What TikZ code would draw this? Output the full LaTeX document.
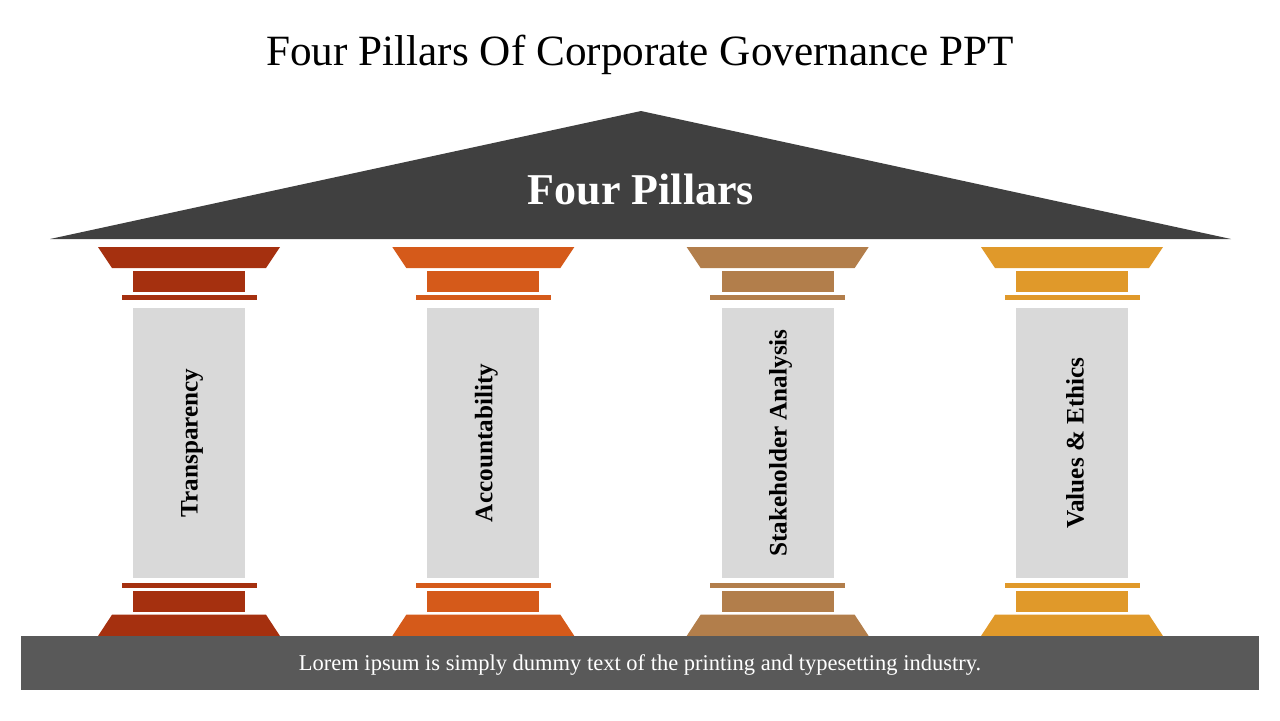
\documentclass[tikz,border=0pt]{standalone}
\usepackage{fontspec}
\setmainfont{Liberation Serif}
\usepackage{tikz}
\usetikzlibrary{positioning}
\usepackage{xcolor}
\definecolor{roofgray}{HTML}{404040}
\definecolor{basegray}{HTML}{595959}
\definecolor{shaftgray}{HTML}{D9D9D9}
\definecolor{pillarA}{HTML}{A5300F}
\definecolor{pillarB}{HTML}{D55A1A}
\definecolor{pillarC}{HTML}{B27E4B}
\definecolor{pillarD}{HTML}{E0992A}
\tikzset{
  slab/.style    = {rectangle, inner sep=0pt, outer sep=0pt},
  shaft/.style   = {slab, fill=shaftgray, minimum width=56pt, minimum height=135pt},
  cblock/.style  = {slab, minimum width=56pt, minimum height=10.5pt},
  cbar/.style    = {slab, minimum width=67.5pt, minimum height=2.5pt},
  pname/.style   = {rotate=90, font=\fontsize{12.6}{15}\selectfont\bfseries, inner sep=0pt},
}

\begin{document}
\begin{tikzpicture}[x=0.5pt,y=-0.5pt]
\useasboundingbox (0,0) rectangle (1280,720);
\node[font=\fontsize{21.6}{26}\selectfont] (title) at (640,55) {Four Pillars Of Corporate Governance PPT};
\fill[roofgray] (50,239) -- (641,111) -- (1231,239) -- cycle;
\node[font=\fontsize{22}{26}\selectfont\bfseries, text=white] (roof) at (641,189) {Four Pillars};
\foreach \col/\lbl [count=\i from 0] in {pillarA/Transparency, pillarB/Accountability,
    pillarC/Stakeholder Analysis, pillarD/Values \& Ethics} {
  \pgfmathsetmacro\cx{189+294.33*\i}
  \fill[\col] (\cx-91,247) -- (\cx+91,247) -- (\cx+77,268) -- (\cx-77,268) -- cycle;
  \node[cblock, fill=\col] (tb\i) at (\cx,281.5) {};
  \node[cbar, fill=\col] (tr\i) at (\cx,297.5) {};
  \node[shaft] (s\i) at (\cx,443) {};
  \node[pname] (n\i) at ([xshift=1.5pt]s\i.center) {\lbl};
  \node[cbar, fill=\col] (br\i) at (\cx,585.5) {};
  \node[cblock, fill=\col] (bb\i) at (\cx,601.5) {};
  \fill[\col] (\cx-77,614.7) -- (\cx+77,614.7) -- (\cx+91,636) -- (\cx-91,636) -- cycle;
}
\node[slab, fill=basegray, minimum width=619pt, minimum height=27pt] (base) at (640,663) {};
\node[text=white, font=\fontsize{11.25}{14}\selectfont, yshift=-1pt] (foot) at (base.center) {Lorem ipsum is simply dummy text of the printing and typesetting industry.};
\end{tikzpicture}
\end{document}
